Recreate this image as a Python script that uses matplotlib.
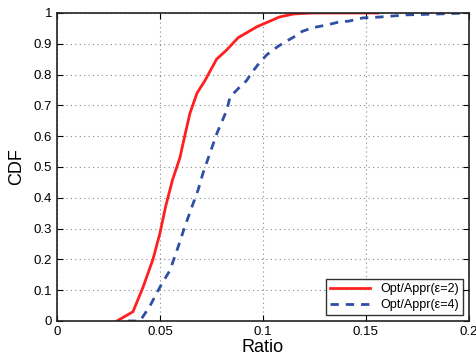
import numpy as np
import matplotlib.pyplot as plt

plt.rcParams['font.family'] = ['Liberation Sans', 'DejaVu Sans']

# CDF of Opt/Appr ratio, eps=2
ratio_e2 = [0.0291, 0.0369, 0.0418, 0.0466, 0.050, 0.0527, 0.0561, 0.0597, 0.062,
            0.0646, 0.068, 0.0718, 0.0775, 0.0824, 0.088, 0.097, 0.108, 0.115,
            0.124, 0.156]
cdf_e2 = [0.0, 0.03, 0.11, 0.20, 0.285, 0.37, 0.458, 0.53, 0.60,
          0.675, 0.74, 0.78, 0.85, 0.88, 0.92, 0.955, 0.987, 0.997,
          1.0, 1.0]

# eps=4
ratio_e4 = [0.0345, 0.0403, 0.045, 0.050, 0.0549, 0.0588, 0.062, 0.0655, 0.0685,
            0.0709, 0.0743, 0.0777, 0.0825, 0.084, 0.0888, 0.092, 0.095, 0.0985,
            0.102, 0.107, 0.110, 0.115, 0.119, 0.124, 0.131, 0.1365, 0.142,
            0.1485, 0.157, 0.170, 0.186, 0.199]
cdf_e4 = [0.0, 0.0, 0.047, 0.11, 0.165, 0.24, 0.305, 0.37, 0.425,
          0.48, 0.545, 0.61, 0.685, 0.727, 0.76, 0.78, 0.81, 0.84,
          0.865, 0.89, 0.903, 0.922, 0.94, 0.952, 0.961, 0.97, 0.974,
          0.984, 0.987, 0.994, 0.997, 1.0]

fig = plt.figure(figsize=(4.76, 3.58), dpi=100)
ax = fig.add_axes([0.1197, 0.1034, 0.8653, 0.8603])

ax.plot(ratio_e2, cdf_e2, color='#ff1f1f', lw=2, label='Opt/Appr(\u03b5=2)')
ax.plot(ratio_e4, cdf_e4, color='#2e4fa3', lw=2, ls=(0, (3, 2.5)), label='Opt/Appr(\u03b5=4)')

ax.set_xlim(0, 0.2)
ax.set_ylim(0, 1)
ax.set_xticks([0, 0.05, 0.1, 0.15, 0.2])
ax.set_xticklabels(['0', '0.05', '0.1', '0.15', '0.2'])
ax.set_yticks(np.arange(0, 1.01, 0.1))
ax.set_yticklabels(['0', '0.1', '0.2', '0.3', '0.4', '0.5', '0.6', '0.7', '0.8', '0.9', '1'])
ax.grid(True, ls=(0, (1, 3)), color='#888888', lw=0.8)
ax.tick_params(direction='in', top=True, right=True, labelsize=9.5, length=4)
for s in ax.spines.values():
    s.set_linewidth(1.2)
    s.set_color('#222222')

ax.set_xlabel('Ratio', fontsize=13, labelpad=1)
ax.set_ylabel('CDF', fontsize=13, labelpad=6)

leg = ax.legend(loc='lower right', fontsize=9, fancybox=False, edgecolor='black',
                handlelength=3.2, borderpad=0.3, labelspacing=0.3, borderaxespad=0.5)
leg.get_frame().set_linewidth(1.0)

fig.savefig('out.png', dpi=100)
